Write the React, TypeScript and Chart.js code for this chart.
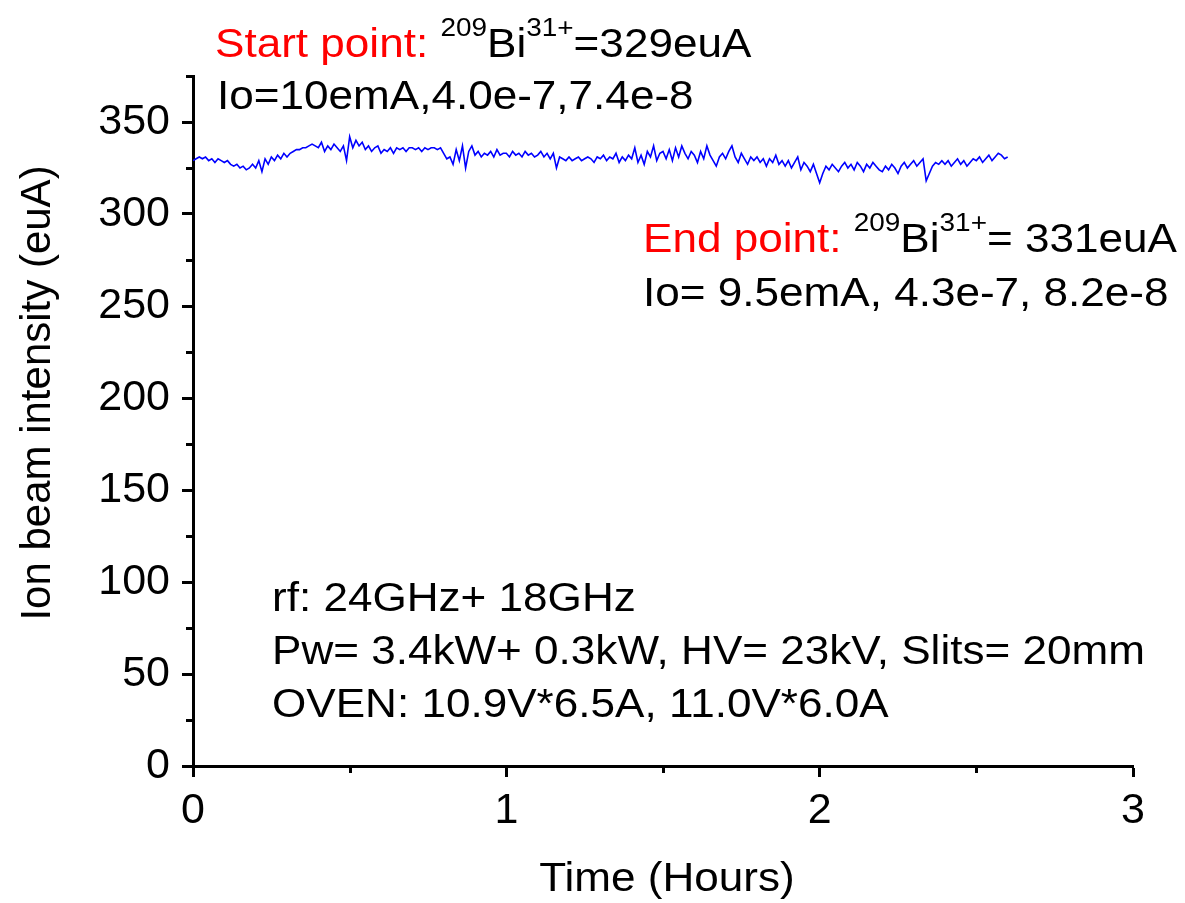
import React, { useEffect, useRef } from 'react';
import { Chart, registerables } from 'chart.js';

Chart.register(...registerables);

// ---- data ----
const SAMPLE_STEP_HOURS = 0.01; // one reading every 0.01 h starting at t = 0
const INTENSITY_EUA = [
  329, 330, 331, 330, 331, 329, 330, 328, 330, 329,
  328, 329, 327, 326, 327, 325, 326, 324, 325, 327,
  325, 329, 323, 330, 327, 331, 329, 332, 330, 333,
  331, 333, 334, 335, 335, 336, 336, 337, 338, 337,
  336, 339, 334, 337, 335, 338, 336, 334, 337, 329,
  342, 336, 340, 337, 339, 335, 337, 334, 336, 337,
  333, 335, 334, 336, 333, 336, 335, 336, 334, 336,
  336, 335, 336, 334, 336, 335, 336, 336, 335, 336,
  333, 330, 331, 327, 335, 329, 337, 325, 334, 337,
  332, 334, 331, 333, 332, 334, 331, 335, 332, 333,
  333, 331, 334, 332, 333, 331, 334, 332, 333, 331,
  332, 334, 331, 333, 330, 333, 325, 331, 330, 329,
  331, 329, 330, 331, 329, 330, 331, 330, 328, 331,
  330, 332, 329, 331, 330, 333, 328, 331, 329, 332,
  330, 336, 328, 332, 327, 334, 331, 337, 329, 333,
  334, 330, 335, 329, 336, 331, 337, 333, 330, 334,
  332, 328, 334, 330, 337, 332, 329, 326, 331, 333,
  330, 334, 337, 331, 328, 333, 330, 327, 331, 329,
  331, 328, 330, 326, 330, 328, 332, 327, 329, 326,
  329, 325, 328, 331, 324, 328, 326, 323, 327, 322,
  317, 322, 326, 324, 327, 325, 323, 326, 328, 325,
  327, 324, 328, 326, 323, 327, 325, 328, 326, 324,
  323, 326, 324, 327, 325, 322, 326, 328, 325, 327,
  329, 326, 328, 330, 318, 322, 326, 328, 327, 329,
  327, 329, 326, 328, 330, 327, 329, 326, 328, 330,
  329, 331, 328, 330, 332, 329, 331, 333, 332, 330,
  331,
];

const X_MAJOR_TICKS = [0, 1, 2, 3];
const X_MINOR_TICKS = [0.5, 1.5, 2.5];
const Y_MAJOR_TICKS = [0, 50, 100, 150, 200, 250, 300, 350];
const Y_MINOR_TICKS = [25, 75, 125, 175, 225, 275, 325, 375];

const X_TITLE = 'Time (Hours)';
const Y_TITLE = 'Ion beam intensity (euA)';

const START_LABEL = ['Start point: ', '209', 'Bi', '31+', '=329euA'];
const START_LINE2 = 'Io=10emA,4.0e-7,7.4e-8';
const END_LABEL = ['End point: ', '209', 'Bi', '31+', '= 331euA'];
const END_LINE2 = 'Io= 9.5emA, 4.3e-7, 8.2e-8';
const CONDITIONS = [
  'rf: 24GHz+ 18GHz',
  'Pw= 3.4kW+ 0.3kW, HV= 23kV, Slits= 20mm',
  'OVEN: 10.9V*6.5A, 11.0V*6.0A',
];

const FONT = '"Liberation Sans", Arial, sans-serif';
const W = 1185;
const H = 903;
const SX = 1.075; // horizontal stretch of the reference lettering
const MAIN_SIZE = 41;
const SUP_SIZE = 26;

function fillStretched(ctx: CanvasRenderingContext2D, t: string, x: number, y: number) {
  ctx.save();
  ctx.translate(x, y);
  ctx.scale(SX, 1);
  ctx.fillText(t, 0, 0);
  ctx.restore();
}

function drawRich(ctx: CanvasRenderingContext2D, x: number, baseline: number, parts: string[]) {
  let cx = x;
  parts.forEach((t, i) => {
    const sup = i === 1 || i === 3;
    ctx.font = `${sup ? SUP_SIZE : MAIN_SIZE}px ${FONT}`;
    ctx.fillStyle = i === 0 ? '#ff0000' : '#000000';
    fillStretched(ctx, t, cx, sup ? baseline - 21 : baseline);
    cx += ctx.measureText(t).width * SX;
  });
}

const annotationPlugin = {
  id: 'annotations',
  afterDraw(chart: any) {
    const ctx: CanvasRenderingContext2D = chart.ctx;
    const xs = chart.scales.x;
    const ys = chart.scales.y;
    const area = chart.chartArea;
    ctx.save();
    // minor ticks
    ctx.strokeStyle = '#000';
    ctx.lineWidth = 3;
    ctx.lineCap = 'butt';
    X_MINOR_TICKS.forEach((v) => {
      const px = Math.round(xs.getPixelForValue(v)) + 0.5;
      ctx.beginPath();
      ctx.moveTo(px, area.bottom);
      ctx.lineTo(px, area.bottom + 7);
      ctx.stroke();
    });
    Y_MINOR_TICKS.forEach((v) => {
      const py = Math.round(ys.getPixelForValue(v)) + 0.5;
      ctx.beginPath();
      ctx.moveTo(area.left - 7, py);
      ctx.lineTo(area.left, py);
      ctx.stroke();
    });

    ctx.textAlign = 'left';
    ctx.textBaseline = 'alphabetic';
    drawRich(ctx, 215, 57, START_LABEL);
    ctx.font = `${MAIN_SIZE}px ${FONT}`;
    ctx.fillStyle = '#000';
    fillStretched(ctx, START_LINE2, 217, 109);

    drawRich(ctx, 643, 252, END_LABEL);
    ctx.font = `${MAIN_SIZE}px ${FONT}`;
    ctx.fillStyle = '#000';
    fillStretched(ctx, END_LINE2, 643, 306);

    CONDITIONS.forEach((t, i) => {
      fillStretched(ctx, t, 272, 611 + i * 53);
    });

    // axis titles
    ctx.textAlign = 'center';
    ctx.textBaseline = 'middle';
    fillStretched(ctx, X_TITLE, 667, 880);
    ctx.font = `42px ${FONT}`;
    ctx.save();
    ctx.translate(38, 393);
    ctx.rotate(-Math.PI / 2);
    ctx.fillText(Y_TITLE, 0, 0);
    ctx.restore();
    ctx.restore();
  },
};

export default function App() {
  const ref = useRef<HTMLCanvasElement>(null);
  useEffect(() => {
    if (!ref.current) return;
    const points = INTENSITY_EUA.map((v, i) => ({ x: i * SAMPLE_STEP_HOURS, y: v }));
    const chart = new Chart(ref.current, {
      type: 'line',
      data: {
        datasets: [
          {
            data: points,
            borderColor: '#0000ff',
            borderWidth: 1.6,
            pointRadius: 0,
            fill: false,
            tension: 0,
          },
        ],
      },
      options: {
        responsive: false,
        animation: false,
        devicePixelRatio: 1,
        layout: { padding: { left: 0, top: 76, right: 52, bottom: 0 } },
        plugins: { legend: { display: false }, tooltip: { enabled: false }, title: { display: false } },
        scales: {
          x: {
            type: 'linear',
            min: 0,
            max: 3,
            afterFit: (s: any) => { s.height = 137; },
            afterBuildTicks: (s: any) => { s.ticks = X_MAJOR_TICKS.map((v) => ({ value: v })); },
            ticks: {
              font: { family: FONT, size: 43 },
              color: '#000',
              padding: 8,
              maxRotation: 0,
              autoSkip: false,
              callback: (v: any) => String(v),
            },
            grid: { drawOnChartArea: false, tickLength: 11, tickWidth: 3, tickColor: '#000' },
            border: { color: '#000', width: 3 },
          },
          y: {
            type: 'linear',
            min: 0,
            max: 375,
            afterFit: (s: any) => { s.width = 193; },
            afterBuildTicks: (s: any) => { s.ticks = Y_MAJOR_TICKS.map((v) => ({ value: v })); },
            ticks: {
              font: { family: FONT, size: 43 },
              color: '#000',
              padding: 12,
              autoSkip: false,
              callback: (v: any) => String(v),
            },
            grid: { drawOnChartArea: false, tickLength: 11, tickWidth: 3, tickColor: '#000' },
            border: { color: '#000', width: 3 },
          },
        },
      },
      plugins: [annotationPlugin],
    });
    return () => chart.destroy();
  }, []);
  return (
    <div style={{ position: 'absolute', left: 0, top: 0, width: W, height: H, background: '#fff' }}>
      <canvas ref={ref} width={W} height={H} style={{ width: W, height: H, display: 'block' }} />
    </div>
  );
}
